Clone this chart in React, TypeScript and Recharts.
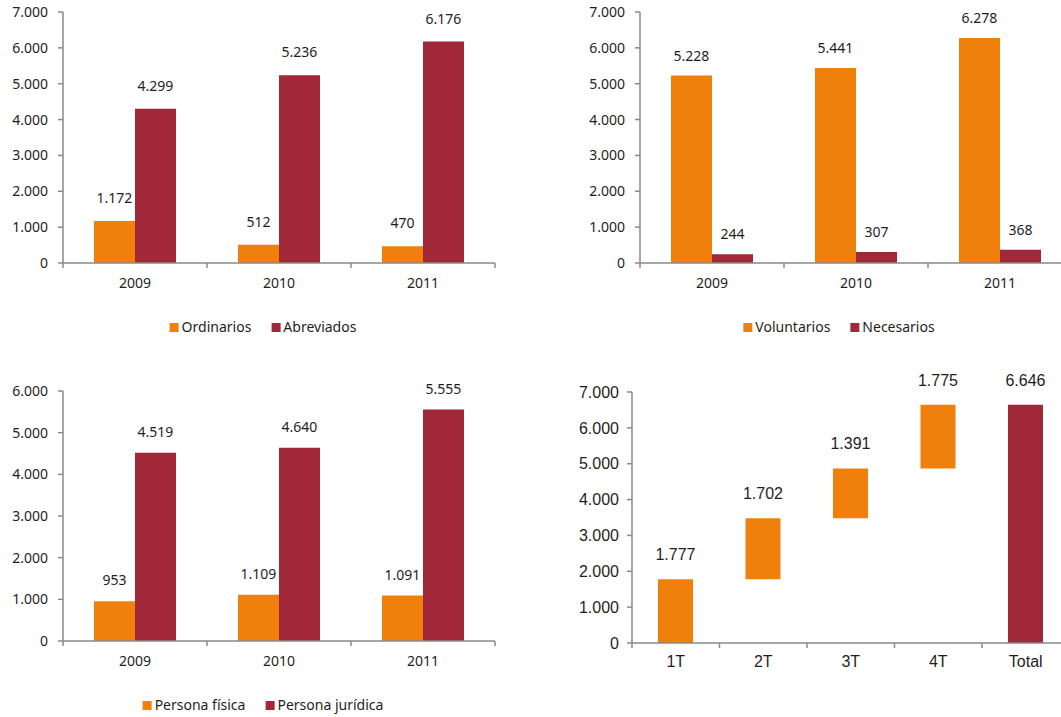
import React from 'react';
import { BarChart, Bar, XAxis, YAxis, LabelList, Cell } from 'recharts';

const years = ['2009', '2010', '2011'];
const ordinarios = [1172, 512, 470];
const abreviados = [4299, 5236, 6176];
const voluntarios = [5228, 5441, 6278];
const necesarios = [244, 307, 368];
const personaFisica = [953, 1109, 1091];
const personaJuridica = [4519, 4640, 5555];

const quarters = ['1T', '2T', '3T', '4T', 'Total'];
const quarterValues = [1777, 1702, 1391, 1775, 6646];

const ticks7 = [0, 1000, 2000, 3000, 4000, 5000, 6000, 7000];
const ticks6 = [0, 1000, 2000, 3000, 4000, 5000, 6000];

const ORANGE = '#EF800B';
const RED = '#A02838';
const AXIS = '#8A8A8A';
const TEXT = '#1E1E1E';
const CALIBRI = '"Noto Sans", sans-serif';
const ARIAL = '"Liberation Sans", Arial, sans-serif';

// 1000 -> "1.000"
const fmt = (v: any) => String(v).replace(/\B(?=(\d{3})+(?!\d))/g, '.');

// excel style: tick marks between categories, label in the middle
function BoundaryTick(props: any) {
  const { x, y, payload, index, half, count, font, size, gap } = props;
  return (
    <g>
      <line x1={x - half} x2={x - half} y1={y} y2={y + 5} stroke={AXIS} strokeWidth={1.5} />
      {index === count - 1 && (
        <line x1={x + half} x2={x + half} y1={y} y2={y + 5} stroke={AXIS} strokeWidth={1.5} />
      )}
      <text x={x} y={y + gap} dy="0.71em" textAnchor="middle" fill={TEXT} fontSize={size} fontFamily={font}>
        {payload.value}
      </text>
    </g>
  );
}

function Legend({ cx, cy, names }: { cx: number; cy: number; names: string[] }) {
  const colors = [ORANGE, RED];
  return (
    <div
      style={{
        position: 'absolute',
        left: cx,
        top: cy - 10,
        transform: 'translateX(-50%)',
        display: 'flex',
        gap: 20,
        fontFamily: CALIBRI,
        fontSize: 14,
        color: TEXT,
        whiteSpace: 'nowrap',
        lineHeight: '20px',
      }}
    >
      {names.map((n, i) => (
        <span key={n} style={{ display: 'flex', alignItems: 'center' }}>
          <span style={{ width: 9, height: 9, background: colors[i], marginRight: 3, display: 'inline-block' }} />
          {n}
        </span>
      ))}
    </div>
  );
}

type PairProps = {
  left: number;
  top: number;
  plotTop: number;
  plotH: number;
  max: number;
  yTicks: number[];
  first: number[];
  second: number[];
  names: string[];
  labelOffset: number;
};

function PairChart({ left, top, plotTop, plotH, max, yTicks, first, second, names, labelOffset }: PairProps) {
  const data = years.map((y, i) => ({ year: y, a: first[i], b: second[i] }));
  const mTop = plotTop - top;
  return (
    <div style={{ position: 'absolute', left, top }}>
      <BarChart
        width={63 + 432 + 10}
        height={mTop + plotH + 40}
        data={data}
        margin={{ top: mTop, right: 10, bottom: 10, left: 0 }}
        barGap={0}
        barSize={41}
      >
        <XAxis
          dataKey="year"
          height={30}
          interval={0}
          tickSize={0}
          tickMargin={0}
          tickLine={false}
          axisLine={{ stroke: AXIS, strokeWidth: 1.5 }}
          tick={(p: any) => <BoundaryTick {...p} half={72} count={years.length} font={CALIBRI} size={14} gap={15} />}
        />
        <YAxis
          width={63}
          domain={[0, max]}
          ticks={yTicks}
          interval={0}
          tickFormatter={fmt}
          tickSize={5}
          tickMargin={10}
          axisLine={{ stroke: AXIS, strokeWidth: 1.5 }}
          tickLine={{ stroke: AXIS, strokeWidth: 1.5 }}
          tick={{ fill: TEXT, fontSize: 14, fontFamily: CALIBRI }}
        />
        <Bar dataKey="a" name={names[0]} fill={ORANGE} isAnimationActive={false}>
          <LabelList dataKey="a" position="top" offset={labelOffset} formatter={fmt} fill={TEXT} fontSize={14} fontFamily={CALIBRI} />
        </Bar>
        <Bar dataKey="b" name={names[1]} fill={RED} isAnimationActive={false}>
          <LabelList dataKey="b" position="top" offset={labelOffset} formatter={fmt} fill={TEXT} fontSize={14} fontFamily={CALIBRI} />
        </Bar>
      </BarChart>
    </div>
  );
}

function WaterfallChart() {
  // invisible base = running total of the previous quarters, total bar starts at 0
  let running = 0;
  const data = quarters.map((q, i) => {
    const isTotal = i === quarters.length - 1;
    const base = isTotal ? 0 : running;
    if (!isTotal) running += quarterValues[i];
    return { q, base, value: quarterValues[i], isTotal };
  });
  const top = 360;
  const mTop = 392 - top;
  return (
    <div style={{ position: 'absolute', left: 569, top }}>
      <BarChart
        width={63 + 437.5 + 5}
        height={mTop + 251 + 45}
        data={data}
        margin={{ top: mTop, right: 5, bottom: 15, left: 0 }}
        barSize={35}
      >
        <XAxis
          dataKey="q"
          height={30}
          interval={0}
          tickSize={0}
          tickMargin={0}
          tickLine={false}
          axisLine={{ stroke: AXIS, strokeWidth: 1.5 }}
          tick={(p: any) => <BoundaryTick {...p} half={43.75} count={quarters.length} font={ARIAL} size={16} gap={13} />}
        />
        <YAxis
          width={63}
          domain={[0, 7000]}
          ticks={ticks7}
          interval={0}
          tickFormatter={fmt}
          tickSize={5}
          tickMargin={8}
          axisLine={{ stroke: AXIS, strokeWidth: 1.5 }}
          tickLine={{ stroke: AXIS, strokeWidth: 1.5 }}
          tick={{ fill: TEXT, fontSize: 16, fontFamily: ARIAL }}
        />
        <Bar dataKey="base" stackId="w" fill="transparent" isAnimationActive={false} />
        <Bar dataKey="value" stackId="w" isAnimationActive={false}>
          {data.map((d) => (
            <Cell key={d.q} fill={d.isTotal ? RED : ORANGE} />
          ))}
          <LabelList dataKey="value" position="top" offset={19} formatter={fmt} fill={TEXT} fontSize={16} fontFamily={ARIAL} />
        </Bar>
      </BarChart>
    </div>
  );
}

export default function App() {
  return (
    <div
      style={{
        position: 'absolute',
        left: 0,
        top: 0,
        width: 1061,
        height: 717,
        overflow: 'hidden',
        background: '#fff',
      }}
    >
      <PairChart
        left={0}
        top={0}
        plotTop={12}
        plotH={251}
        max={7000}
        yTicks={ticks7}
        first={ordinarios}
        second={abreviados}
        names={['Ordinarios', 'Abreviados']}
        labelOffset={18}
      />
      <Legend cx={263} cy={327} names={['Ordinarios', 'Abreviados']} />

      <PairChart
        left={577}
        top={0}
        plotTop={12}
        plotH={251}
        max={7000}
        yTicks={ticks7}
        first={voluntarios}
        second={necesarios}
        names={['Voluntarios', 'Necesarios']}
        labelOffset={15}
      />
      <Legend cx={839} cy={327} names={['Voluntarios', 'Necesarios']} />

      <PairChart
        left={0}
        top={360}
        plotTop={391}
        plotH={250}
        max={6000}
        yTicks={ticks6}
        first={personaFisica}
        second={personaJuridica}
        names={['Persona física', 'Persona jurídica']}
        labelOffset={16}
      />
      <Legend cx={263} cy={705} names={['Persona física', 'Persona jurídica']} />

      <WaterfallChart />
    </div>
  );
}
